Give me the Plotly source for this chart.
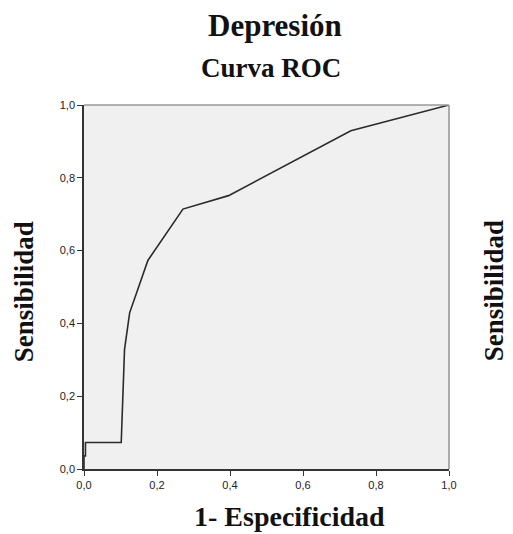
import plotly.graph_objects as go

# ROC curve points
fpr = [0.0, 0.0, 0.004, 0.004, 0.102, 0.107, 0.111, 0.125, 0.175, 0.271, 0.396, 0.731, 1.0]
tpr = [0.0, 0.036, 0.036, 0.073, 0.073, 0.245, 0.328, 0.429, 0.573, 0.714, 0.751, 0.929, 1.0]
tick_vals = [0.0, 0.2, 0.4, 0.6, 0.8, 1.0]
tick_text = ["0,0", "0,2", "0,4", "0,6", "0,8", "1,0"]

serif = "Liberation Serif, Times New Roman, serif"
dark = "#333333"

fig = go.Figure()
fig.add_trace(go.Scatter(x=fpr, y=tpr, mode="lines",
                         line=dict(color="#2b2b2b", width=1.6),
                         hoverinfo="skip", showlegend=False))

axis_common = dict(range=[0, 1], tickvals=tick_vals, ticktext=tick_text,
                   ticks="outside", ticklen=5, tickwidth=1.3, tickcolor=dark,
                   showline=True, linecolor=dark, linewidth=1.6,
                   showgrid=False, zeroline=False,
                   tickfont=dict(family="Liberation Sans, Arial, sans-serif", size=11, color="#222222"))

fig.update_layout(
    width=513, height=534,
    margin=dict(l=84, r=64, t=105, b=65),
    paper_bgcolor="white", plot_bgcolor="#f0f0f0",
    xaxis=axis_common, yaxis=axis_common,
    showlegend=False,
)

# top and right border (lighter)
fig.add_shape(type="line", xref="paper", yref="paper", x0=0, x1=1, y0=1, y1=1,
              line=dict(color="#999999", width=1.6))
fig.add_shape(type="line", xref="paper", yref="paper", x0=1, x1=1, y0=0, y1=1,
              line=dict(color="#999999", width=1.6))

def ann(text, x, y, size, angle=0):
    fig.add_annotation(text="<b>" + text + "</b>", x=x, y=y, xref="paper", yref="paper",
                       xanchor="center", yanchor="middle", showarrow=False,
                       textangle=angle, font=dict(family=serif, size=size, color="#111111"))

ann("Depresión", 0.522, 1.218, 31)
ann("Curva ROC", 0.512, 1.102, 27)
ann("1- Especificidad", 0.563, -0.130, 28)
ann("Sensibilidad", -0.164, 0.486, 27, -90)
ann("Sensibilidad", 1.122, 0.490, 27, -90)

fig.write_html("out.html")
